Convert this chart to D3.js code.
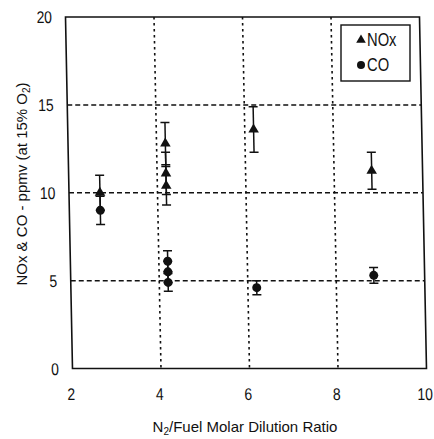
<!DOCTYPE html>
<html>
<head>
<meta charset="utf-8">
<script src="https://cdn.jsdelivr.net/npm/d3@7"></script>
<style>
  body { margin: 0; background: #fff; }
  svg { display: block; }
</style>
</head>
<body>
<svg id="chart" width="434" height="439"></svg>
<script>
// Axis ticks and reference lines
const xTicks = [2, 4, 6, 8, 10];
const yTicks = [0, 5, 10, 15, 20];
const xGrid = [4, 6, 8];
const yGrid = [5, 10, 15];

// NOx measurements (ppmv at 15% O2) with error half-widths
const noxRatio = [2.7, 4.2, 4.2, 4.2, 6.2, 8.85];
const noxValue = [10.0, 12.8, 11.1, 10.4, 13.6, 11.25];
const noxError = [1.0, 1.2, 1.2, 1.1, 1.3, 1.05];

// CO measurements (ppmv at 15% O2) with error half-widths
const coRatio = [2.7, 4.2, 4.2, 4.2, 6.2, 8.85];
const coValue = [9.0, 6.1, 5.5, 4.9, 4.6, 5.3];
const coError = [0.8, 0.6, 0.6, 0.5, 0.4, 0.45];

const legendLabels = ["NOx", "CO"];

const sans = "'Liberation Sans', Arial, sans-serif";
const ink = "#111";
const squeeze = 0.82; // condensed look for ticks and legend

const svg = d3.select("#chart");

const x = d3.scaleLinear().domain([2, 10]).range([69, 423]);
const y = d3.scaleLinear().domain([0, 20]).range([368.5, 17]);

// The plotting area leans very slightly to the right toward the bottom
const lean = 1.14;
const midY = 193;
const plot = svg.append("g")
  .attr("transform", `translate(${-Math.tan(lean * Math.PI / 180) * midY},0) skewX(${lean})`);

// Dashed reference lines
plot.append("g").selectAll("line").data(yGrid).join("line")
  .attr("x1", x(2)).attr("x2", x(10))
  .attr("y1", d => y(d)).attr("y2", d => y(d))
  .attr("stroke", ink).attr("stroke-width", 1.5)
  .attr("stroke-dasharray", "5,3");

plot.append("g").selectAll("line").data(xGrid).join("line")
  .attr("x1", d => x(d)).attr("x2", d => x(d))
  .attr("y1", y(20)).attr("y2", y(0))
  .attr("stroke", ink).attr("stroke-width", 1.6)
  .attr("stroke-dasharray", "2.6,3.4");

// Frame
plot.append("rect")
  .attr("x", x(2)).attr("y", y(20))
  .attr("width", x(10) - x(2)).attr("height", y(0) - y(20))
  .attr("fill", "none").attr("stroke", ink).attr("stroke-width", 1.6);

// Tick labels
plot.append("g").selectAll("text").data(xTicks).join("text")
  .attr("transform", d => `translate(${x(d) - 1.8},400) scale(${squeeze},1)`)
  .attr("text-anchor", "middle")
  .attr("font-family", sans).attr("font-size", 17).attr("fill", ink)
  .text(d => d);

plot.append("g").selectAll("text").data(yTicks).join("text")
  .attr("transform", d => `translate(${x(2) - 13.5},${y(d)}) scale(${squeeze},1)`)
  .attr("dy", "0.36em")
  .attr("text-anchor", "end")
  .attr("font-family", sans).attr("font-size", 17).attr("fill", ink)
  .text(d => d);

// Error bars
function errorBars(ratio, value, err) {
  const g = plot.append("g").attr("stroke", ink).attr("stroke-width", 1.5);
  const idx = d3.range(ratio.length);
  g.selectAll(".stem").data(idx).join("line")
    .attr("x1", i => x(ratio[i])).attr("x2", i => x(ratio[i]))
    .attr("y1", i => y(value[i] - err[i])).attr("y2", i => y(value[i] + err[i]));
  g.selectAll(".capTop").data(idx).join("line")
    .attr("x1", i => x(ratio[i]) - 4.5).attr("x2", i => x(ratio[i]) + 4.5)
    .attr("y1", i => y(value[i] + err[i])).attr("y2", i => y(value[i] + err[i]));
  g.selectAll(".capBot").data(idx).join("line")
    .attr("x1", i => x(ratio[i]) - 4.5).attr("x2", i => x(ratio[i]) + 4.5)
    .attr("y1", i => y(value[i] - err[i])).attr("y2", i => y(value[i] - err[i]));
}
errorBars(noxRatio, noxValue, noxError);
errorBars(coRatio, coValue, coError);

// Markers
const tri = d3.symbol(d3.symbolTriangle, 48);
plot.append("g").selectAll("path").data(d3.range(noxRatio.length)).join("path")
  .attr("d", tri)
  .attr("transform", i => `translate(${x(noxRatio[i])},${y(noxValue[i])})`)
  .attr("fill", ink);

plot.append("g").selectAll("circle").data(d3.range(coRatio.length)).join("circle")
  .attr("cx", i => x(coRatio[i])).attr("cy", i => y(coValue[i]))
  .attr("r", 4.5)
  .attr("fill", ink);

// Legend
const legend = svg.append("g");
legend.append("rect")
  .attr("x", 341).attr("y", 25).attr("width", 69).attr("height", 56)
  .attr("fill", "#fff").attr("stroke", ink).attr("stroke-width", 1.4);
legend.append("path")
  .attr("d", d3.symbol(d3.symbolTriangle, 40))
  .attr("transform", "translate(361,40)")
  .attr("fill", ink);
legend.append("circle")
  .attr("cx", 361).attr("cy", 65).attr("r", 4).attr("fill", ink);
legend.selectAll("text").data(legendLabels).join("text")
  .attr("transform", (d, i) => `translate(367,${46 + i * 25}) scale(${squeeze},1)`)
  .attr("font-family", sans).attr("font-size", 18).attr("fill", ink)
  .text(d => d);

// Axis titles
const xTitle = svg.append("text")
  .attr("x", 245).attr("y", 432)
  .attr("text-anchor", "middle")
  .attr("font-family", sans).attr("font-size", 15).attr("fill", ink);
xTitle.append("tspan").text("N");
xTitle.append("tspan").attr("font-size", 10).attr("dy", 3).text("2");
xTitle.append("tspan").attr("dy", -3).text("/Fuel Molar Dilution Ratio");

const yTitle = svg.append("text")
  .attr("transform", "translate(27,184) rotate(-90)")
  .attr("text-anchor", "middle")
  .attr("font-family", sans).attr("font-size", 15).attr("fill", ink);
yTitle.append("tspan").text("NOx & CO - ppmv (at 15% O");
yTitle.append("tspan").attr("font-size", 10).attr("dy", 3).text("2");
yTitle.append("tspan").attr("dy", -3).text(")");
</script>
</body>
</html>
